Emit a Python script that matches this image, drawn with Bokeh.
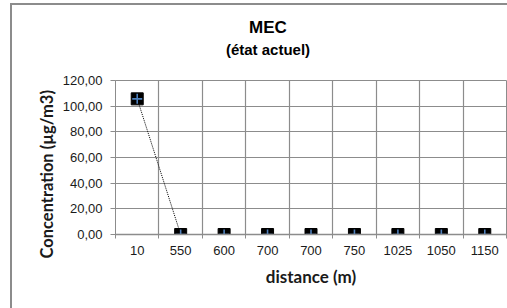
from bokeh.plotting import figure
from bokeh.layouts import column
from bokeh.models import FixedTicker, Range1d, Title, Div
from bokeh.embed import file_html
from bokeh.resources import INLINE

# ---- data ----
distances = ["10", "550", "600", "700", "700", "750", "1025", "1050", "1150"]
concentration = [105.7, 0.0, 0.0, 0.0, 0.0, 0.0, 0.0, 0.0, 0.0]
y_ticks = [0, 20, 40, 60, 80, 100, 120]
y_tick_labels = ["0,00", "20,00", "40,00", "60,00", "80,00", "100,00", "120,00"]

title_text = "MEC"
subtitle_text = "(état actuel)"
x_title = "distance (m)"
y_title = "Concentration (µg/m3)"

positions = list(range(len(distances)))
boundaries = [i - 0.5 for i in range(len(distances) + 1)]

GRID = "#8c8c8c"
TXT = "#1a1a1a"

# ---- title block ----
title_html = (
    '<div style="position:relative;width:495px;height:60px;'
    "font-family:'Liberation Sans',Arial,sans-serif;font-weight:bold;color:#000;\">"
    '<div style="position:absolute;left:156px;top:13px;width:200px;text-align:center;'
    f'font-size:17px;line-height:20px;">{title_text}</div>'
    '<div style="position:absolute;left:156px;top:36px;width:200px;text-align:center;'
    f'font-size:15px;line-height:18px;">{subtitle_text}</div>'
    '</div>'
)
title_div = Div(text=title_html, width=495, height=60, margin=0)

p = figure(width=495, height=243, output_backend="svg", toolbar_location=None,
           x_range=Range1d(-0.5, len(distances) - 0.5), y_range=Range1d(0, 120),
           min_border_left=103, min_border_right=1, min_border_top=15, min_border_bottom=74)
p.margin = 0
p.background_fill_color = "white"
p.border_fill_color = "white"
p.outline_line_color = GRID
p.outline_line_width = 1

# grid
p.xgrid.ticker = FixedTicker(ticks=boundaries)
p.ygrid.ticker = FixedTicker(ticks=y_ticks)
for g in (p.xgrid, p.ygrid):
    g.grid_line_color = GRID
    g.grid_line_width = 1.2

# x axis
xa = p.xaxis[0]
xa.ticker = FixedTicker(ticks=positions, minor_ticks=boundaries)
xa.major_label_overrides = {i: d for i, d in zip(positions, distances)}
xa.major_tick_out = 0
xa.major_tick_in = 0
xa.minor_tick_out = 4
xa.minor_tick_in = 0
xa.minor_tick_line_color = GRID
xa.axis_line_color = GRID
xa.axis_line_width = 1.5
xa.major_label_text_font = "Liberation Sans"
xa.major_label_text_font_size = "13px"
xa.major_label_text_color = TXT
xa.major_label_standoff = 7
xa.axis_label = x_title
xa.axis_label_text_font = "Lato"
xa.axis_label_text_font_style = "bold"
xa.axis_label_text_font_size = "17px"
xa.axis_label_text_color = TXT
xa.axis_label_standoff = 8

# y axis
ya = p.yaxis[0]
ya.ticker = FixedTicker(ticks=y_ticks)
ya.major_label_overrides = {t: l for t, l in zip(y_ticks, y_tick_labels)}
ya.major_tick_out = 5
ya.major_tick_in = 0
ya.minor_tick_line_color = None
ya.major_tick_line_color = GRID
ya.axis_line_color = GRID
ya.major_label_text_font = "Liberation Sans"
ya.major_label_text_font_size = "13px"
ya.major_label_text_color = TXT
ya.major_label_standoff = 8

# series
p.line(positions, concentration, line_color="black", line_width=1, line_dash="1 1")
p.scatter(positions, concentration, marker="square", size=12,
          fill_color="black", line_color="black")
p.scatter(positions, concentration, marker="cross", size=10,
          line_color="#4f81bd", line_width=1.6)

p.add_layout(Title(text=y_title, align="left", offset=-24, standoff=6,
                   text_font="Lato", text_font_style="bold",
                   text_font_size="16.5px", text_color=TXT), "left")

layout = column(title_div, p, spacing=0)
layout.styles = {"margin-left": "12px", "margin-top": "5px", "outline": "2px solid #8c8c8c",
                 "background-color": "white"}

open("out.html", "w").write(file_html(layout, INLINE))
